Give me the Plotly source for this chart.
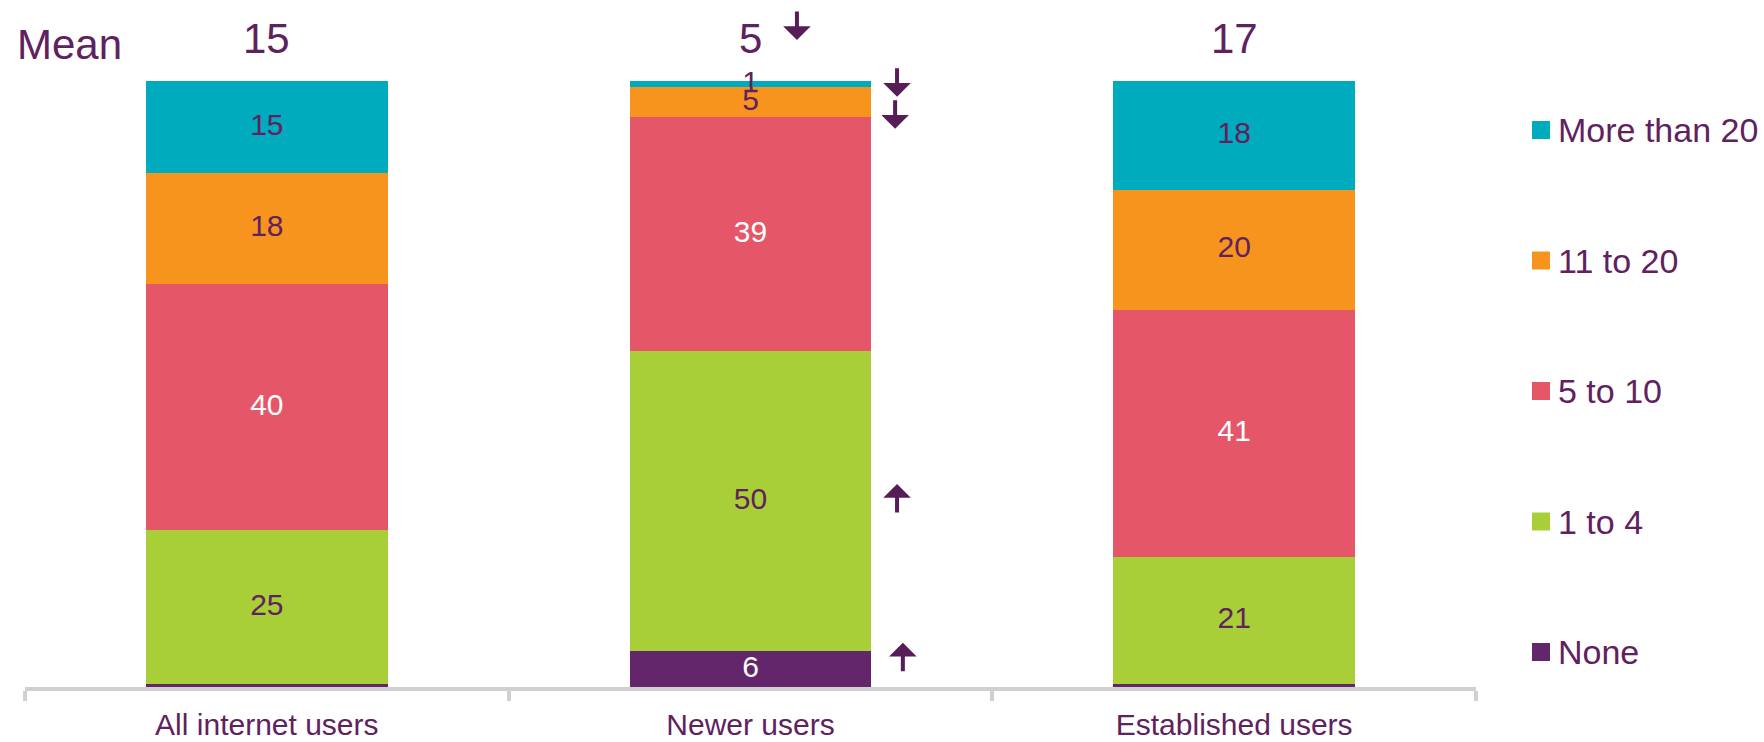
import plotly.graph_objects as go

# Survey data: share of users in each band (percent) and group means
categories = ["All internet users", "Newer users", "Established users"]
series_names = ["None", "1 to 4", "5 to 10", "11 to 20", "More than 20"]
none_vals = [0.5, 6, 0.5]
one_to_four = [25, 50, 21]
five_to_ten = [40, 39, 41]
eleven_to_twenty = [18, 5, 20]
more_than_twenty = [15, 1, 18]
means = [15, 5, 17]

series_values = [none_vals, one_to_four, five_to_ten, eleven_to_twenty, more_than_twenty]
series_colors = ["#63266a", "#a8cf38", "#e55768", "#f7941d", "#00abbd"]
TEXT = "#60215f"
ARROW = "#571d57"
label_colors = ["white", TEXT, "white", TEXT, TEXT]

FONT = "Arial, 'Liberation Sans', sans-serif"
W, H = 1764, 742
ML, MR, MT, MB = 25, 288, 81, 55
PW, PH = W - ML - MR, H - MT - MB


def px_to_paper_x(px):
    return (px - ML) / PW


def px_to_paper_y(py):
    return (H - MB - py) / PH


fig = go.Figure()
for name, vals, color in zip(series_names, series_values, series_colors):
    fig.add_trace(go.Bar(
        x=categories,
        y=vals,
        name=name,
        marker=dict(color=color, line=dict(width=0)),
        showlegend=False,
        hoverinfo="skip",
    ))

# Segment labels, placed at the middle of each normalised segment and drawn above all bars
totals = [sum(col) for col in zip(*series_values)]
lab_x, lab_y, lab_t, lab_c = [], [], [], []
base = [0.0] * len(categories)
for vals, lc in zip(series_values, label_colors):
    for i, v in enumerate(vals):
        mid = (base[i] + v / 2) / totals[i] * 100
        base[i] += v
        if v >= 1:
            lab_x.append(categories[i])
            lab_y.append(mid)
            lab_t.append(f"{v:g}")
            lab_c.append(lc)
fig.add_trace(go.Scatter(
    x=lab_x, y=lab_y, text=lab_t, mode="text",
    textposition="middle center",
    textfont=dict(family=FONT, size=30, color=lab_c),
    cliponaxis=False, showlegend=False, hoverinfo="skip",
))

annotations = []
shapes = []

# Mean row above the bars
annotations.append(dict(
    text="Mean", xref="paper", yref="paper", x=px_to_paper_x(15), y=px_to_paper_y(44),
    xanchor="left", yanchor="middle", showarrow=False,
    font=dict(family=FONT, size=42, color=TEXT),
))
for i, m in enumerate(means):
    annotations.append(dict(
        text=str(m), xref="x", yref="paper", x=i, y=px_to_paper_y(39),
        xanchor="center", yanchor="middle", showarrow=False,
        font=dict(family=FONT, size=42, color=TEXT),
    ))

# Significance arrows for newer users
def arrow(x, y, yref, down):
    annotations.append(dict(
        text="", xref="x", yref=yref, x=x, y=y, ax=0, ay=-30 if down else 30,
        showarrow=True, arrowhead=1, arrowsize=1.15, arrowwidth=4, arrowcolor=ARROW,
        standoff=0,
    ))

arrow(1.096, px_to_paper_y(40), "paper", True)
arrow(1.303, 97.4, "y", True)
arrow(1.299, 92.1, "y", True)
arrow(1.303, 33.5, "y", False)
arrow(1.315, 7.3, "y", False)

# Legend drawn as squares and labels
legend_y = [130, 260.5, 391, 521.5, 652]
for name, color, py in zip(series_names[::-1], series_colors[::-1], legend_y):
    shapes.append(dict(
        type="rect", xref="paper", yref="paper",
        x0=px_to_paper_x(1532), x1=px_to_paper_x(1550),
        y0=px_to_paper_y(py + 9), y1=px_to_paper_y(py - 9),
        fillcolor=color, line=dict(width=0),
    ))
    annotations.append(dict(
        text=name, xref="paper", yref="paper", x=px_to_paper_x(1556), y=px_to_paper_y(py),
        xanchor="left", yanchor="middle", showarrow=False,
        font=dict(family=FONT, size=34, color=TEXT),
    ))

fig.update_layout(
    width=W, height=H,
    margin=dict(l=ML, r=MR, t=MT, b=MB, autoexpand=False),
    barmode="stack", barnorm="percent", bargap=0.5,
    plot_bgcolor="white", paper_bgcolor="white",
    annotations=annotations, shapes=shapes,
    showlegend=False,
    xaxis=dict(
        type="category", range=[-0.5, 2.5], tickson="boundaries",
        ticks="outside", ticklen=10, tickwidth=4, tickcolor="#d0d0d0",
        showline=True, linecolor="#d0d0d0", linewidth=4, showgrid=False,
        tickfont=dict(family=FONT, size=30, color=TEXT),
        ticklabelstandoff=8, automargin=False,
    ),
    yaxis=dict(range=[0, 100], visible=False, fixedrange=True),
)

fig.write_html("out.html")
